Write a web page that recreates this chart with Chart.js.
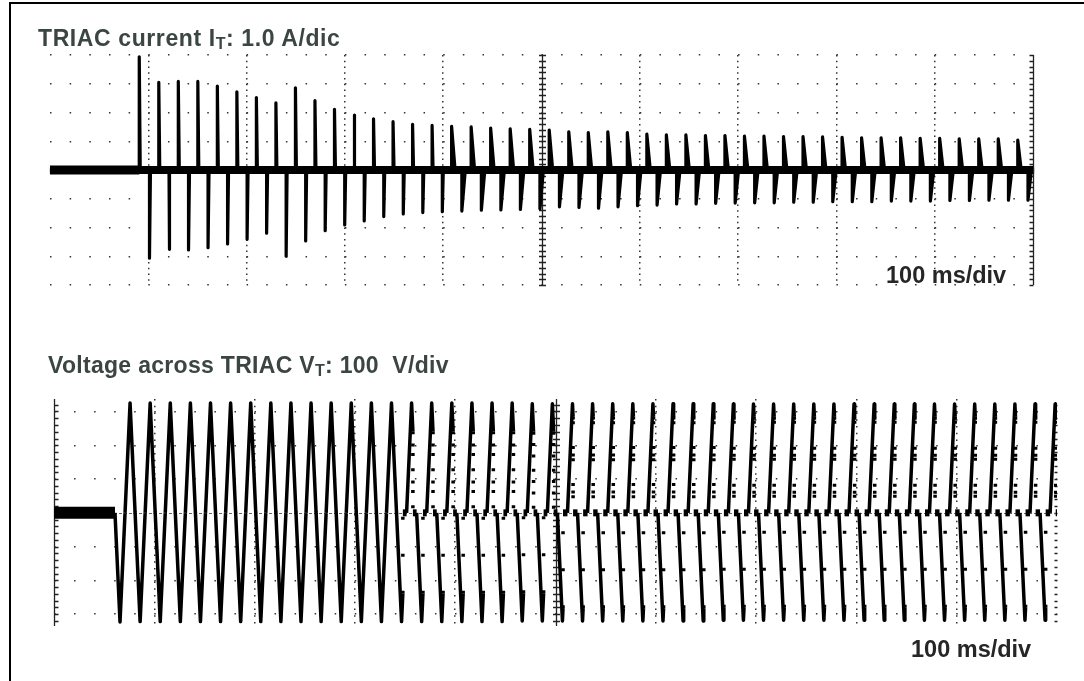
<!DOCTYPE html>
<html lang="en">
<head>
<meta charset="utf-8">
<title>TRIAC current and voltage</title>
<script src="https://cdn.jsdelivr.net/npm/chart.js@4.4.1/dist/chart.umd.min.js"></script>
<style>
  html, body { margin: 0; padding: 0; background: #fff; }
  body { position: relative; width: 1084px; height: 681px; overflow: hidden;
         font-family: "Liberation Sans", Arial, Helvetica, sans-serif; }
  .frame { position: absolute; left: 9px; top: 2px; width: 1100px; height: 700px;
           border-top: 2px solid #000; border-left: 2px solid #000; }
  canvas { position: absolute; left: 0; }
  .title { position: absolute; font-weight: bold; color: #3b4643; line-height: 1; white-space: pre; }
  .title .sub { font-size: 16px; position: relative; top: 3px; }
  .rate { position: absolute; font-weight: bold; color: #262626; font-size: 23.5px; line-height: 1; white-space: pre; }
</style>
</head>
<body>
<div class="frame"></div>
<canvas id="currentChart" width="1084" height="340" style="top:0"></canvas>
<canvas id="voltageChart" width="1084" height="341" style="top:340px"></canvas>
<div class="title" style="left:38px;top:27px;font-size:23px;letter-spacing:0.6px">TRIAC current I<span class="sub">T</span>: 1.0 A/dic</div>
<div class="rate" style="left:886px;top:264px">100 ms/div</div>
<div class="title" style="left:48px;top:354px;font-size:23px;letter-spacing:0.3px">Voltage across TRIAC V<span class="sub">T</span>: 100  V/div</div>
<div class="rate" style="left:911px;top:638px">100 ms/div</div>

<script>
// time base: 100 ms/div, 10 divisions on both screens
const timeRangeMs = [0, 1000];
const timeGridMs = [100, 200, 300, 400, 600, 700, 800, 900];

// --- TRIAC current, 1 A/div ---
const currentRangeA = [-4, 4];
const currentGridA = [-4, -3, -2, -1, 1, 2, 3, 4];
const currentFirstPulseMs = 90.8;   // first positive pulse after switch-on
const currentPeriodMs = 19.86;      // mains period as captured
const currentNegDelayMs = 10.4;     // negative pulse after the positive one
const currentPosPeaks = [3.94, 3.05, 3.08, 3.08, 2.92, 2.72, 2.52, 2.34, 2.86, 2.41,
  2.11, 1.91, 1.78, 1.68, 1.59, 1.55, 1.52, 1.50, 1.46, 1.43,
  1.41, 1.39, 1.33, 1.30, 1.33, 1.30, 1.25, 1.22, 1.22, 1.20,
  1.20, 1.18, 1.18, 1.16, 1.16, 1.15, 1.14, 1.12, 1.12, 1.12,
  1.10, 1.10, 1.08, 1.08, 1.08, 1.04];
const currentNegPeaks = [-3.07, -2.76, -2.78, -2.70, -2.57, -2.41, -2.20, -3.00, -2.47, -2.11,
  -1.91, -1.77, -1.62, -1.53, -1.48, -1.45, -1.43, -1.40, -1.39, -1.37,
  -1.35, -1.28, -1.30, -1.33, -1.28, -1.24, -1.22, -1.18, -1.18, -1.16,
  -1.15, -1.14, -1.14, -1.12, -1.12, -1.10, -1.10, -1.10, -1.08, -1.08,
  -1.08, -1.06, -1.06, -1.05, -1.05, -1.05];

// --- voltage across TRIAC, 100 V/div ---
const voltRangeV = [-335, 337];
const voltGridV = [-300, -200, -100, 100, 200, 300];
const voltFirstZeroMs = 60.8;       // switch-on, first (negative) half cycle
const voltHalfCycleMs = 10.025;
const voltNegPeaks = [-323, -322, -322, -322, -322, -322, -322, -322, -322, -322,
  -322, -322, -322, -322, -322, -322, -322, -322, -322, -322,
  -320, -320, -320, -320, -320, -320, -320, -320, -320, -320,
  -318, -318, -318, -318, -318, -318, -318, -318, -318, -318,
  -318, -318, -318, -318, -318, -318, -318];
const voltPosPeaks = [325, 325, 325, 325, 325, 325, 325, 325, 325, 325,
  325, 325, 325, 325, 325, 325, 325, 325, 325, 325,
  323, 323, 323, 323, 323, 323, 323, 323, 323, 323,
  322, 322, 322, 322, 322, 322, 322, 322, 322, 322,
  322, 322, 322, 322, 322, 322, 322];
// firing instant inside each half cycle (ms); 10 = no firing
const voltNegFireMs = [10, 10, 10, 10, 10, 10, 10, 10, 10, 10, 10, 10, 10, 10,
  6.3, 6.3, 6.3, 6.3, 6.3, 6.3, 6.3, 6.3,
  5.6, 5.6, 5.6, 5.6, 5.6, 5.6, 5.6, 5.6, 5.6, 5.6, 5.6, 5.6, 5.6,
  5.6, 5.6, 5.6, 5.6, 5.6, 5.6, 5.6, 5.6, 5.6, 5.6, 5.6, 5.6];
const voltPosFireMs = [10, 10, 10, 10, 10, 10, 10, 10, 10, 10, 10, 10, 10, 10,
  6.3, 6.3, 6.3, 6.3, 6.3, 6.3, 6.3, 6.3,
  5.6, 5.6, 5.6, 5.6, 5.6, 5.6, 5.6, 5.6, 5.6, 5.6, 5.6, 5.6, 5.6,
  5.6, 5.6, 5.6, 5.6, 5.6, 5.6, 5.6, 5.6, 5.6, 5.6, 5.6, 5.6];

// build the traces from the values above
const currentTrace = [];
currentPosPeaks.forEach((peak, i) => {
  const tPos = currentFirstPulseMs + i * currentPeriodMs;
  const tNeg = tPos + currentNegDelayMs;
  const fall = i < 16 ? 1.0 : 3.5;
  currentTrace.push({ x: tPos, y: 0 }, { x: tPos, y: peak }, { x: tPos + fall, y: 0 });
  currentTrace.push({ x: tNeg, y: 0 }, { x: tNeg, y: currentNegPeaks[i] }, { x: tNeg + fall, y: 0 });
});

const voltTrace = [{ x: voltFirstZeroMs, y: 0 }];
for (let i = 0; i < voltNegPeaks.length * 2; i++) {
  const j = Math.floor(i / 2);
  const peak = i % 2 === 0 ? voltNegPeaks[j] : voltPosPeaks[j];
  const fire = i % 2 === 0 ? voltNegFireMs[j] : voltPosFireMs[j];
  const t0 = voltFirstZeroMs + i * voltHalfCycleMs;
  voltTrace.push({ x: t0 + voltHalfCycleMs / 2, y: peak });
  if (fire < voltHalfCycleMs) {
    const level = peak * (voltHalfCycleMs - fire) / (voltHalfCycleMs / 2);
    voltTrace.push({ x: t0 + fire, y: level }, { x: t0 + fire, y: 0 });
  }
  voltTrace.push({ x: t0 + voltHalfCycleMs, y: 0 });
}

// scope graticule: centre cross and frame marks with their small ticks
const graticule = {
  id: 'graticule',
  beforeDatasetsDraw(chart, args, opts) {
    const { ctx, chartArea: area, scales: { x, y } } = chart;
    ctx.save();
    ctx.strokeStyle = '#222';
    ctx.lineWidth = 1.3;

    const yFrom = Math.ceil(y.min / opts.yMinor), yTo = Math.floor(y.max / opts.yMinor);
    opts.vLines.forEach(line => {
      const px = Math.round(x.getPixelForValue(line.value)) + 0.5;
      if (line.solid) {
        ctx.beginPath();
        ctx.moveTo(px, area.top);
        ctx.lineTo(px, area.bottom);
        ctx.stroke();
      }
      ctx.beginPath();
      for (let k = yFrom; k <= yTo; k++) {
        const py = Math.round(y.getPixelForValue(k * opts.yMinor)) + 0.5;
        ctx.moveTo(px - line.left, py);
        ctx.lineTo(px + line.right, py);
      }
      ctx.stroke();
    });

    const h = opts.hLine;
    const cy = Math.round(y.getPixelForValue(0)) + 0.5;
    ctx.strokeStyle = h.color;
    ctx.lineWidth = h.width;
    ctx.setLineDash(h.dash);
    ctx.beginPath();
    ctx.moveTo(area.left, cy);
    ctx.lineTo(area.right, cy);
    ctx.stroke();
    ctx.setLineDash([]);
    if (h.ticks) {
      ctx.beginPath();
      const xFrom = Math.ceil(x.min / opts.xMinor), xTo = Math.floor(x.max / opts.xMinor);
      for (let k = xFrom; k <= xTo; k++) {
        const px = Math.round(x.getPixelForValue(k * opts.xMinor)) + 0.5;
        ctx.moveTo(px, cy - h.ticks);
        ctx.lineTo(px, cy + h.ticks);
      }
      ctx.stroke();
    }
    ctx.restore();
  }
};
Chart.register(graticule);

function scopeOptions(p) {
  return {
    responsive: false,
    animation: false,
    events: [],
    layout: { padding: p.padding, autoPadding: false },
    plugins: { legend: { display: false }, tooltip: { enabled: false }, graticule: p.graticule },
    elements: {
      point: { radius: 0 },
      line: { tension: 0, fill: false, borderColor: '#000', borderJoinStyle: 'round' }
    },
    scales: {
      x: {
        type: 'linear', min: timeRangeMs[0], max: timeRangeMs[1],
        afterBuildTicks: s => { s.ticks = timeGridMs.map(v => ({ value: v })); },
        ticks: { display: false },
        grid: { drawTicks: false, color: '#333', lineWidth: 1.5 },
        border: { display: false, dash: p.colDash }
      },
      y: {
        type: 'linear', min: p.yRange[0], max: p.yRange[1],
        afterBuildTicks: s => { s.ticks = p.yGrid.map(v => ({ value: v })); },
        ticks: { display: false },
        grid: { drawTicks: false, color: '#333', lineWidth: 1.5 },
        border: { display: false, dash: p.rowDash }
      }
    }
  };
}

new Chart(document.getElementById('currentChart'), {
  type: 'line',
  data: {
    datasets: [
      { data: [{ x: timeRangeMs[0], y: 0 }, { x: currentFirstPulseMs, y: 0 }], borderWidth: 9 },
      { data: [{ x: timeRangeMs[0], y: 0 }, { x: timeRangeMs[1], y: 0 }], borderWidth: 8 },
      { data: currentTrace, borderWidth: 3.2 }
    ]
  },
  options: scopeOptions({
    padding: { left: 50, right: 51, top: 55, bottom: 55 },
    yRange: currentRangeA,
    yGrid: currentGridA,
    colDash: [1.5, 4.25],
    rowDash: [1.5, 18.16],
    graticule: {
      xMinor: 20, yMinor: 0.2,
      vLines: [{ value: 500, left: 3.5, right: 3.5, solid: true },
               { value: 1000, left: 4, right: 0, solid: true }],
      hLine: { color: '#222', width: 1.3, dash: [], ticks: 3 }
    }
  })
});

new Chart(document.getElementById('voltageChart'), {
  type: 'line',
  data: {
    datasets: [
      { data: [{ x: timeRangeMs[0], y: 0 }, { x: voltFirstZeroMs, y: 0 }], borderWidth: 12 },
      {
        data: voltTrace,
        borderWidth: 3.5,
        segment: {
          borderWidth: c => (c.p0.parsed.y === 0 && c.p1.parsed.y === 0) ? 7 : undefined,
          borderDash: c => (c.p0.parsed.x === c.p1.parsed.x) ? [3, 34] : undefined
        }
      }
    ]
  },
  options: scopeOptions({
    padding: { left: 54, right: 27, top: 59, bottom: 55 },
    yRange: voltRangeV,
    yGrid: voltGridV,
    colDash: [1.5, 5.26],
    rowDash: [1.5, 18.55],
    graticule: {
      xMinor: 20, yMinor: 20,
      vLines: [{ value: 0, left: 0, right: 4, solid: true },
               { value: 500, left: 3.5, right: 3.5, solid: true },
               { value: 1000, left: 3, right: 0, solid: false }],
      hLine: { color: '#666', width: 1, dash: [3, 2], ticks: 0 }
    }
  })
});
</script>
</body>
</html>
